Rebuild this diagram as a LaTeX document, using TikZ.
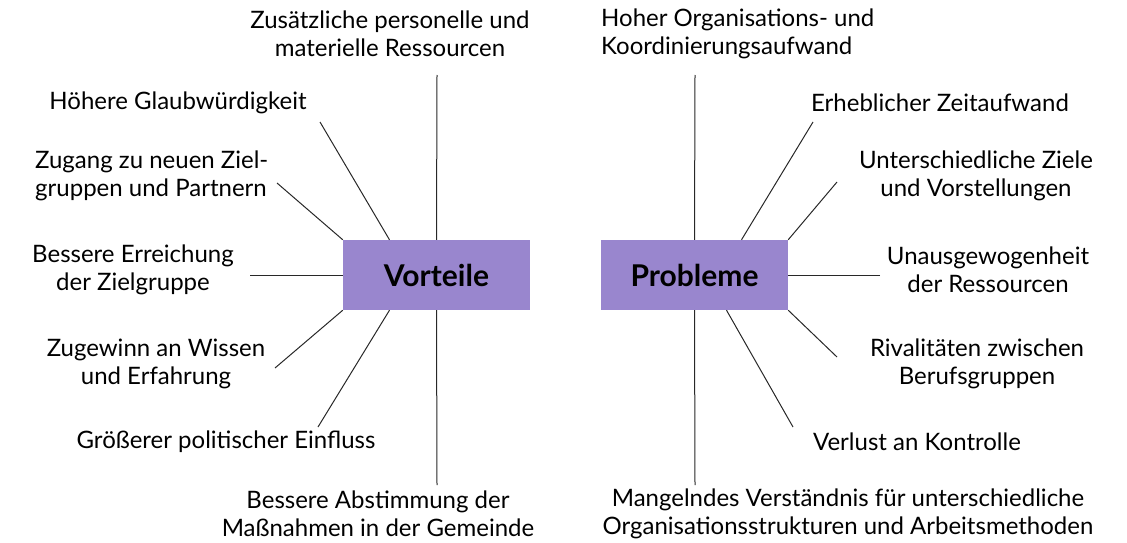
\documentclass[tikz,border=0pt]{standalone}
\usepackage{fontspec}
\setmainfont{Lato}
\usetikzlibrary{positioning}

\definecolor{boxlila}{RGB}{153,134,206}
\definecolor{strich}{RGB}{40,40,40}

\tikzset{
  kasten/.style={fill=boxlila, minimum width=187pt, minimum height=70pt,
    inner sep=0pt, font=\fontsize{30}{34}\selectfont\bfseries},
  punkt/.style={inner sep=0pt, align=center, font=\fontsize{24}{28}\selectfont},
  ast/.style={draw=strich, line width=1pt},
}

\begin{document}
\begin{tikzpicture}[x=1pt,y=-1pt]
\useasboundingbox (0,0) rectangle (1127,543);

% die beiden Kaesten
\node[kasten] (vort) at (436.5,275) {Vorteile};
\node[kasten] (prob) at (694.5,275) {Probleme};

% Vorteile, links
\node[punkt] (v1) at (390,34)  {Zusätzliche personelle und\\materielle Ressourcen};
\node[punkt] (v2) at (178,103) {Höhere Glaubwürdigkeit};
\node[punkt, align=left, anchor=west] (v3) at (35,176) {Zugang zu neuen Ziel-\\gruppen und Partnern};
\node[punkt] (v4) at (133,270) {Bessere Erreichung\\der Zielgruppe};
\node[punkt] (v5) at (156,364) {Zugewinn an Wissen\\und Erfahrung};
\node[punkt] (v6) at (226,442) {Größerer politischer Einfluss};
\node[punkt] (v7) at (378,514) {Bessere Abstimmung der\\Maßnahmen in der Gemeinde};

\coordinate (e1) at (437,75);
\coordinate (e2) at (320,122);
\coordinate (e3) at (277,183);
\coordinate (e4) at (250,275);
\coordinate (e5) at (275,368);
\coordinate (e6) at (318,427);
\coordinate (e7) at (437,485);

\draw[ast] (e1) -- (vort.north);
\draw[ast] (e2) -- ([xshift=-47pt]vort.north);
\draw[ast] (e3) -- (vort.north west);
\draw[ast] (e4) -- (vort.west);
\draw[ast] (e5) -- (vort.south west);
\draw[ast] (e6) -- ([xshift=-47pt]vort.south);
\draw[ast] (e7) -- (vort.south);

% Probleme, rechts
\node[punkt, align=left, anchor=west] (p1) at (601,34) {Hoher Organisations- und\\Koordinierungsaufwand};
\node[punkt] (p2) at (940,103) {Erheblicher Zeitaufwand};
\node[punkt] (p3) at (976,176) {Unterschiedliche Ziele\\und Vorstellungen};
\node[punkt] (p4) at (988,270) {Unausgewogenheit\\der Ressourcen};
\node[punkt] (p5) at (977,364) {Rivalitäten zwischen\\Berufsgruppen};
\node[punkt] (p6) at (917,442) {Verlust an Kontrolle};
\node[punkt] (p7) at (848,514) {Mangelndes Verständnis für unterschiedliche\\Organisationsstrukturen und Arbeitsmethoden};

\coordinate (f1) at (695,75);
\coordinate (f2) at (813,122);
\coordinate (f3) at (837,182);
\coordinate (f4) at (880,275);
\coordinate (f5) at (837,357);
\coordinate (f6) at (793,427);
\coordinate (f7) at (695,485);

\draw[ast] (f1) -- (prob.north);
\draw[ast] (f2) -- ([xshift=47pt]prob.north);
\draw[ast] (f3) -- (prob.north east);
\draw[ast] (f4) -- (prob.east);
\draw[ast] (f5) -- (prob.south east);
\draw[ast] (f6) -- ([xshift=32pt]prob.south);
\draw[ast] (f7) -- (prob.south);
\end{tikzpicture}
\end{document}
